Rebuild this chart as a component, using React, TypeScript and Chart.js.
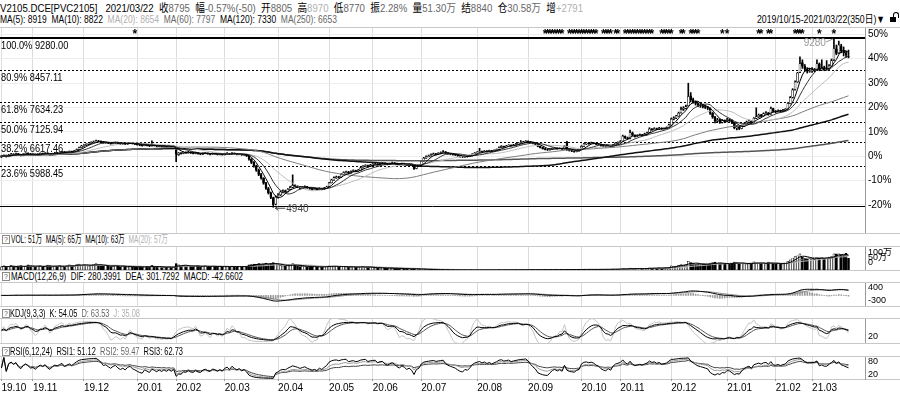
import React, { useEffect, useLayoutEffect, useRef } from "react";
import { Chart, registerables } from "chart.js";

Chart.register(...registerables);

const FONT = '"Liberation Sans", "Noto Sans CJK SC", sans-serif';
Chart.defaults.font.family = FONT;

// ---------- data ----------
const monthStarts = [0, 13, 34, 56, 72, 92, 114, 135, 153, 173, 196, 217, 239, 255, 276, 299, 319, 334];
const monthLabels = ["19.10", "19.11", "19.12", "20.01", "20.02", "20.03", "20.04", "20.05", "20.06", "20.07", "20.08", "20.09", "20.10", "20.11", "20.12", "21.01", "21.02", "21.03"];

const opens = [
  6230, 6255, 6270, 6245, 6280, 6305, 6290, 6315, 6285, 6265, 6300, 6330, 6310,
  6285, 6300, 6275, 6300, 6325, 6305, 6335, 6300, 6290, 6315, 6340, 6330, 6345, 6365, 6340, 6355, 6375, 6360, 6385, 6420, 6470,
  6515, 6530, 6560, 6580, 6600, 6620, 6645, 6630, 6615, 6590, 6600, 6585, 6570, 6590, 6605, 6580, 6565, 6575, 6560, 6580, 6590, 6570,
  6560, 6545, 6530, 6520, 6540, 6525, 6510, 6535, 6520, 6505, 6515, 6500, 6510, 6495, 6505, 6490,
  6400, 6290, 6335, 6320, 6355, 6340, 6360, 6330, 6320, 6340, 6310, 6300, 6320, 6330, 6310, 6300, 6320, 6310, 6295, 6305,
  6290, 6310, 6320, 6300, 6330, 6310, 6295, 6305, 6280, 6290, 6250, 6170, 6090, 6000, 5890, 5780, 5690, 5560, 5420, 5310, 5180, 5020,
  5200, 5260, 5330, 5360, 5340, 5400, 5450, 5510, 5480, 5460, 5430, 5450, 5470, 5440, 5420, 5400, 5410, 5390, 5420, 5400, 5430,
  5470, 5570, 5640, 5700, 5720, 5710, 5780, 5830, 5850, 5820, 5860, 5880, 5870, 5890, 5950, 5990, 6010, 5990,
  6020, 6040, 6050, 6030, 6060, 6070, 6050, 6040, 6060, 6080, 6070, 6050, 6040, 6060, 6050, 6030, 6040, 6030, 5935, 5990,
  6020, 6130, 6200, 6240, 6260, 6290, 6310, 6300, 6320, 6340, 6360, 6330, 6310, 6300, 6290, 6280, 6260, 6240, 6230, 6250, 6240, 6260, 6300,
  6330, 6350, 6370, 6360, 6380, 6370, 6390, 6380, 6400, 6420, 6470, 6500, 6490, 6510, 6530, 6520, 6540, 6560, 6580, 6600, 6610,
  6630, 6620, 6600, 6580, 6560, 6500, 6470, 6440, 6420, 6410, 6430, 6450, 6460, 6440, 6450, 6430, 6600, 6420, 6390, 6380, 6370, 6390,
  6460, 6500, 6560, 6580, 6570, 6590, 6580, 6560, 6550, 6520, 6500, 6490, 6510, 6490, 6540, 6580,
  6600, 6640, 6760, 6720, 6700, 6850, 6790, 6760, 6780, 6800, 6790, 6820, 6860, 6950, 6930, 6960, 6940, 6970, 6950, 6960, 6980,
  7050, 7200, 7230, 7280, 7360, 7450, 7480, 7540, 7800, 7700, 7650, 7600, 7560, 7540, 7520, 7500, 7480, 7350, 7250, 7150, 7180, 7120, 7160,
  7150, 7190, 7170, 7100, 6980, 7000, 6960, 7020, 7080, 7120, 7150, 7100, 7220, 7260, 7300, 7280, 7340, 7360, 7330, 7470,
  7400, 7390, 7420, 7400, 7430, 7460, 7600, 7760, 7960, 8160, 8400, 8650, 8560, 8480, 8430,
  8440, 8450, 8460, 8620, 8460, 8520, 8470, 8470, 8560, 8720, 9000, 8900, 9080, 8950, 8900, 8805,
];
const highs = [
  6270, 6285, 6280, 6295, 6320, 6315, 6330, 6320, 6300, 6315, 6340, 6335, 6320,
  6310, 6305, 6315, 6335, 6330, 6345, 6340, 6315, 6325, 6350, 6345, 6360, 6375, 6370, 6365, 6385, 6380, 6395, 6435, 6485, 6530,
  6545, 6570, 6595, 6620, 6640, 6660, 6655, 6645, 6625, 6615, 6610, 6595, 6600, 6615, 6610, 6590, 6590, 6585, 6595, 6605, 6600, 6580,
  6570, 6555, 6540, 6555, 6550, 6535, 6640, 6545, 6530, 6530, 6520, 6525, 6515, 6520, 6510, 6515,
  6420, 6345, 6345, 6365, 6360, 6375, 6365, 6340, 6355, 6345, 6320, 6335, 6345, 6335, 6320, 6335, 6330, 6315, 6320, 6310,
  6325, 6340, 6325, 6345, 6335, 6320, 6320, 6310, 6305, 6295, 6260, 6190, 6110, 6020, 5920, 5810, 5700, 5580, 5450, 5330, 5200, 5230,
  5290, 5360, 5390, 5380, 5420, 5480, 5770, 5530, 5495, 5470, 5470, 5490, 5475, 5450, 5430, 5430, 5420, 5440, 5430, 5450, 5480,
  5580, 5660, 5720, 5740, 5735, 5800, 5850, 5870, 5860, 5875, 5900, 5890, 5910, 5965, 6010, 6030, 6020, 6040,
  6060, 6070, 6060, 6075, 6090, 6080, 6060, 6075, 6100, 6090, 6075, 6060, 6075, 6070, 6055, 6060, 6050, 6040, 6005, 6030,
  6140, 6220, 6260, 6280, 6310, 6330, 6320, 6340, 6360, 6390, 6370, 6340, 6320, 6310, 6300, 6290, 6270, 6250, 6265, 6260, 6275, 6315, 6345,
  6365, 6450, 6380, 6395, 6390, 6405, 6395, 6415, 6435, 6490, 6520, 6510, 6525, 6545, 6540, 6555, 6580, 6600, 6650, 6630, 6650,
  6645, 6630, 6610, 6590, 6565, 6510, 6480, 6450, 6430, 6445, 6465, 6475, 6465, 6465, 6455, 6520, 6630, 6430, 6400, 6390, 6400, 6415,
  6520, 6580, 6600, 6590, 6610, 6600, 6585, 6570, 6555, 6530, 6510, 6525, 6515, 6555, 6600, 6620,
  6650, 6790, 6770, 6740, 6920, 6870, 6800, 6800, 6820, 6810, 6840, 6870, 6980, 6960, 6980, 6970, 6990, 6980, 6975, 7000, 7070,
  7230, 7260, 7300, 7380, 7510, 7520, 7560, 8120, 7880, 7740, 7670, 7620, 7600, 7580, 7560, 7530, 7490, 7370, 7270, 7220, 7200, 7190, 7180,
  7220, 7210, 7180, 7110, 7040, 7020, 7050, 7100, 7150, 7180, 7160, 7240, 7490, 7330, 7320, 7360, 7390, 7370, 7510, 7480,
  7420, 7440, 7430, 7450, 7470, 7620, 7780, 7980, 8180, 8400, 8800, 8720, 8600, 8520, 8500,
  8520, 8500, 8720, 8640, 8720, 8560, 8700, 8600, 8740, 9280, 9100, 9200, 9120, 9050, 8950, 8970,
];
const lows = [
  6215, 6240, 6225, 6235, 6270, 6275, 6280, 6270, 6255, 6260, 6290, 6295, 6275,
  6270, 6265, 6270, 6290, 6295, 6300, 6295, 6275, 6280, 6305, 6315, 6320, 6335, 6330, 6330, 6345, 6345, 6350, 6380, 6415, 6460,
  6500, 6520, 6545, 6570, 6590, 6610, 6615, 6600, 6580, 6580, 6570, 6555, 6565, 6580, 6570, 6550, 6555, 6550, 6555, 6570, 6560, 6545,
  6530, 6515, 6505, 6515, 6515, 6495, 6505, 6510, 6490, 6495, 6485, 6490, 6480, 6485, 6475, 6480,
  6110, 6270, 6300, 6310, 6325, 6330, 6320, 6305, 6310, 6300, 6285, 6290, 6310, 6300, 6285, 6290, 6295, 6280, 6285, 6275,
  6280, 6300, 6290, 6295, 6300, 6280, 6285, 6270, 6270, 6240, 6150, 6060, 5970, 5860, 5750, 5660, 5530, 5400, 5280, 5160, 4940, 5000,
  5170, 5240, 5310, 5320, 5330, 5390, 5440, 5460, 5440, 5410, 5420, 5440, 5425, 5400, 5380, 5390, 5370, 5385, 5385, 5395, 5420,
  5460, 5560, 5630, 5680, 5690, 5700, 5770, 5815, 5800, 5810, 5850, 5850, 5860, 5885, 5940, 5980, 5970, 5980,
  6010, 6030, 6015, 6025, 6050, 6040, 6025, 6035, 6055, 6055, 6035, 6025, 6035, 6035, 6015, 6020, 6005, 5910, 5925, 5980,
  6010, 6120, 6190, 6230, 6250, 6280, 6280, 6290, 6310, 6330, 6320, 6300, 6285, 6275, 6265, 6245, 6225, 6215, 6220, 6225, 6235, 6255, 6295,
  6320, 6345, 6345, 6355, 6355, 6365, 6365, 6375, 6395, 6415, 6465, 6475, 6485, 6505, 6505, 6515, 6535, 6555, 6575, 6590, 6600,
  6605, 6585, 6565, 6545, 6490, 6460, 6430, 6410, 6395, 6405, 6425, 6440, 6430, 6435, 6420, 6425, 6400, 6380, 6365, 6350, 6360, 6380,
  6450, 6495, 6550, 6555, 6565, 6565, 6545, 6535, 6505, 6485, 6470, 6485, 6475, 6485, 6535, 6570,
  6590, 6630, 6700, 6680, 6690, 6770, 6740, 6750, 6770, 6770, 6785, 6810, 6850, 6910, 6920, 6925, 6930, 6935, 6940, 6950, 6975,
  7030, 7180, 7210, 7270, 7350, 7420, 7460, 7530, 7640, 7610, 7560, 7520, 7500, 7490, 7470, 7440, 7320, 7220, 7100, 7130, 7090, 7100, 7110,
  7130, 7140, 7080, 6950, 6920, 6930, 6950, 7010, 7070, 7100, 7080, 7090, 7210, 7240, 7250, 7270, 7320, 7300, 7320, 7380,
  7360, 7380, 7370, 7390, 7410, 7450, 7590, 7740, 7940, 8140, 8390, 8500, 8420, 8380, 8400,
  8400, 8410, 8450, 8440, 8450, 8440, 8450, 8460, 8550, 8700, 8850, 8880, 8900, 8820, 8780, 8770,
];
const closes = [
  6250, 6265, 6240, 6280, 6300, 6290, 6310, 6285, 6270, 6300, 6325, 6310, 6290,
  6295, 6280, 6300, 6320, 6310, 6330, 6305, 6290, 6315, 6335, 6330, 6345, 6360, 6340, 6355, 6370, 6360, 6385, 6420, 6470, 6510,
  6530, 6555, 6580, 6600, 6620, 6640, 6630, 6615, 6590, 6600, 6585, 6570, 6590, 6600, 6580, 6565, 6575, 6560, 6580, 6590, 6570, 6560,
  6545, 6530, 6520, 6540, 6525, 6510, 6530, 6520, 6505, 6515, 6500, 6510, 6495, 6505, 6490, 6500,
  6300, 6330, 6320, 6350, 6340, 6360, 6330, 6320, 6340, 6310, 6300, 6320, 6330, 6310, 6300, 6320, 6310, 6295, 6305, 6290,
  6310, 6320, 6300, 6330, 6310, 6295, 6305, 6280, 6290, 6260, 6170, 6090, 6000, 5890, 5780, 5690, 5560, 5420, 5310, 5190, 5010, 5200,
  5250, 5330, 5360, 5340, 5400, 5450, 5500, 5480, 5460, 5430, 5450, 5470, 5440, 5420, 5400, 5410, 5390, 5420, 5400, 5430, 5460,
  5560, 5640, 5700, 5720, 5710, 5780, 5830, 5850, 5820, 5860, 5880, 5870, 5890, 5950, 5990, 6010, 5990, 6020,
  6040, 6050, 6030, 6060, 6070, 6050, 6040, 6060, 6080, 6070, 6050, 6040, 6060, 6050, 6030, 6040, 6020, 5930, 5990, 6010,
  6120, 6200, 6240, 6260, 6290, 6310, 6300, 6320, 6340, 6360, 6330, 6310, 6300, 6290, 6280, 6260, 6240, 6230, 6250, 6240, 6260, 6300, 6330,
  6350, 6370, 6360, 6380, 6370, 6390, 6380, 6400, 6420, 6470, 6500, 6490, 6510, 6530, 6520, 6540, 6560, 6580, 6600, 6610, 6630,
  6620, 6600, 6580, 6560, 6500, 6470, 6440, 6420, 6410, 6430, 6450, 6460, 6440, 6450, 6430, 6500, 6420, 6390, 6380, 6370, 6390, 6400,
  6500, 6560, 6580, 6570, 6590, 6580, 6560, 6550, 6520, 6500, 6490, 6510, 6490, 6540, 6580, 6600,
  6620, 6760, 6720, 6700, 6850, 6790, 6760, 6780, 6800, 6790, 6820, 6850, 6950, 6930, 6960, 6940, 6970, 6950, 6960, 6980, 7050,
  7200, 7230, 7280, 7350, 7450, 7480, 7520, 7780, 7700, 7650, 7600, 7560, 7540, 7520, 7500, 7480, 7350, 7250, 7150, 7180, 7120, 7160, 7140,
  7190, 7170, 7100, 6980, 7000, 6960, 7020, 7080, 7120, 7150, 7100, 7220, 7260, 7300, 7280, 7340, 7360, 7330, 7470, 7400,
  7390, 7420, 7400, 7430, 7450, 7600, 7750, 7950, 8150, 8380, 8620, 8560, 8480, 8430, 8440,
  8450, 8470, 8620, 8460, 8520, 8470, 8470, 8560, 8700, 9010, 8885, 9100, 8950, 8905, 8845, 8795,
];
// volume, 万手
const volumes = [
  14, 18, 12, 16, 20, 15, 13, 17, 19, 14, 16, 22, 18,
  15, 12, 17, 19, 14, 16, 21, 18, 13, 15, 17, 20, 16, 14, 18, 22, 19, 17, 24, 26, 21,
  23, 19, 18, 21, 25, 28, 22, 18, 16, 19, 17, 15, 18, 20, 16, 14, 17, 15, 13, 16, 14, 12,
  13, 15, 12, 14, 16, 13, 20, 15, 12, 14, 11, 13, 12, 14, 11, 12,
  28, 22, 18, 20, 17, 19, 16, 15, 18, 17, 15, 16, 18, 14, 15, 17, 16, 14, 15, 13,
  15, 17, 14, 16, 15, 13, 16, 14, 15, 17, 22, 24, 26, 25, 28, 24, 27, 30, 26, 28, 32, 25,
  22, 20, 18, 17, 19, 21, 28, 20, 17, 15, 16, 18, 14, 15, 13, 14, 12, 15, 13, 14, 16,
  18, 17, 16, 15, 13, 16, 15, 14, 12, 13, 14, 12, 13, 15, 14, 12, 11, 13,
  10, 9, 8, 9, 10, 8, 7, 9, 8, 7, 6, 7, 6, 5, 6, 5, 4, 6, 5, 4,
  3, 3, 2, 2.5, 2, 1.8, 1.5, 1.6, 1.2, 1.4, 1, 0.9, 0.8, 0.9, 0.7, 0.6, 0.5, 0.6, 0.5, 0.4, 0.5, 0.6, 0.5,
  0.5, 0.6, 0.5, 0.4, 0.5, 0.6, 0.5, 0.7, 0.6, 0.8, 0.9, 0.7, 0.8, 0.9, 0.8, 1.0, 1.1, 1.0, 1.2, 1.1, 1.2,
  1.2, 1.1, 1.3, 1.2, 1.4, 1.3, 1.5, 1.4, 1.6, 1.5, 1.7, 1.6, 1.8, 1.7, 1.9, 2.0, 2.4, 2.2, 2.0, 2.1, 2.3, 2.2,
  2.5, 2.8, 2.6, 2.4, 2.7, 2.5, 2.3, 2.6, 2.9, 3.1, 2.8, 3.0, 3.2, 3.5, 3.8, 4.0,
  4.2, 6.5, 5.0, 4.8, 8.0, 6.2, 5.5, 5.8, 6.0, 5.6, 6.4, 7.0, 9.5, 8.2, 8.8, 8.0, 9.0, 8.5, 9.2, 10, 12,
  18, 16, 17, 20, 24, 22, 25, 38, 32, 28, 26, 25, 24, 26, 25, 24, 30, 32, 34, 28, 30, 26, 27,
  28, 26, 30, 34, 32, 30, 28, 27, 26, 28, 30, 36, 30, 28, 29, 30, 27, 34, 30, 28,
  27, 28, 26, 29, 30, 38, 44, 52, 58, 62, 70, 56, 52, 48, 50,
  48, 46, 55, 52, 54, 50, 52, 56, 58, 70, 70, 70, 66, 64, 72, 51,
];

const fibLevels = [9280, 8457.11, 7634.23, 7125.94, 6617.46, 5988.45, 4971.88];
const fibRatios = ["100.0%", "80.9%", "61.8%", "50.0%", "38.2%", "23.6%", "0.0%"];
const pctSteps = [-20, -10, 0, 10, 20, 30, 40, 50];
const starDays = [
  55,
  224, 225, 226, 227, 228, 229, 230, 231,
  234, 235, 236, 237, 238, 239, 240, 241, 242, 243, 244, 245,
  248, 249, 250, 251, 253, 254,
  257, 258, 259, 260, 261, 262, 263, 264, 265, 266, 267, 268,
  272, 273, 274, 275, 276,
  280, 281, 284, 285, 286, 287,
  297, 299,
  312, 313, 316, 317,
  327, 328, 329, 330, 337, 343,
];

// ---------- axis ranges ----------
const X_MIN = -0.58;
const X_MAX = 355.8;
const PRICE_MIN = 4280;
const PRICE_MAX = 9536;
const AXIS_W = 35;

// ---------- indicator helpers ----------
function sma(a: number[], n: number) {
  const out: number[] = [];
  let s = 0;
  for (let i = 0; i < a.length; i++) {
    s += a[i];
    if (i >= n) s -= a[i - n];
    out.push(s / Math.min(i + 1, n));
  }
  return out;
}
function ema(a: number[], n: number) {
  const k = 2 / (n + 1);
  let e = a[0];
  return a.map((v, i) => (e = i === 0 ? v : e + k * (v - e)));
}
function pts(a: number[]) {
  return a.map((y, x) => ({ x, y }));
}

const upFlag = closes.map((c, i) => c >= opens[i]);

const dif = (() => { const e12 = ema(closes, 12), e26 = ema(closes, 26); return e12.map((v, i) => v - e26[i]); })();
const dea = ema(dif, 9);
const hist = dif.map((v, i) => 2 * (v - dea[i]));

const kdj = (() => {
  let K = 50, D = 50;
  const k: number[] = [], d: number[] = [], j: number[] = [];
  for (let i = 0; i < closes.length; i++) {
    const s = Math.max(0, i - 8);
    const lo = Math.min(...lows.slice(s, i + 1));
    const hi = Math.max(...highs.slice(s, i + 1));
    const rsv = hi === lo ? 50 : ((closes[i] - lo) / (hi - lo)) * 100;
    K = (2 * K + rsv) / 3;
    D = (2 * D + K) / 3;
    k.push(K); d.push(D); j.push(3 * K - 2 * D);
  }
  return { k, d, j };
})();

function rsi(n: number) {
  let up = 0, dn = 0;
  const out: number[] = [];
  for (let i = 0; i < closes.length; i++) {
    if (i === 0) { out.push(50); continue; }
    const dlt = closes[i] - closes[i - 1];
    up = (Math.max(dlt, 0) + (n - 1) * up) / n;
    dn = (Math.abs(dlt) + (n - 1) * dn) / n;
    out.push(dn === 0 ? 50 : (up / dn) * 100);
  }
  return out;
}

// ---------- scale builders ----------
function xAxis(showLabels: boolean): any {
  return {
    type: "linear",
    min: X_MIN,
    max: X_MAX,
    bounds: "data",
    offset: false,
    afterBuildTicks: (s: any) => { s.ticks = monthStarts.map((v) => ({ value: v })); },
    afterFit: (s: any) => { s.paddingLeft = 0; s.paddingRight = 0; if (showLabels) s.height = 15; },
    grid: { offset: false, color: "#dcdcdc", lineWidth: 1, drawTicks: showLabels, tickLength: 2, tickColor: "#999" },
    border: { display: false },
    ticks: {
      display: showLabels,
      autoSkip: false,
      maxRotation: 0,
      minRotation: 0,
      align: "start",
      padding: 1,
      color: "#000",
      font: { family: FONT, size: 10 },
      callback: (v: any) => { const k = monthStarts.indexOf(Number(v)); return k >= 0 ? monthLabels[k] : ""; },
    },
  };
}
function rightAxis(min: number, max: number, values: number[], labels: string[], gridColor?: string, size = 9): any {
  return {
    type: "linear",
    position: "right",
    min,
    max,
    bounds: "data",
    stacked: false,
    afterBuildTicks: (s: any) => { s.ticks = values.map((v) => ({ value: v })); },
    afterFit: (s: any) => { s.width = AXIS_W; s.paddingTop = 0; s.paddingBottom = 0; },
    grid: { display: !!gridColor, color: gridColor || "#eee", drawTicks: false },
    border: { display: true, color: "#9a9a9a" },
    ticks: { padding: 3, color: "#000", autoSkip: false, font: { family: FONT, size }, callback: (_v: any, i: number) => labels[i] },
  };
}
const hiddenY = (min: number, max: number): any => ({ type: "linear", display: false, min, max, bounds: "data", stacked: false });

const baseOpts = (scales: any): any => ({
  animation: false,
  responsive: false,
  maintainAspectRatio: false,
  devicePixelRatio: 1,
  events: [],
  layout: { padding: 0 },
  plugins: { legend: { display: false }, tooltip: { enabled: false }, title: { display: false } },
  scales,
});

const lineDs = (data: number[], color: string, width = 1, yAxisID = "y"): any => ({
  type: "line",
  data: pts(data),
  borderColor: color,
  borderWidth: width,
  pointRadius: 0,
  tension: 0,
  fill: false,
  yAxisID,
});
const barDs = (data: any[], bg: any, maxW: number, extra: any = {}): any => ({
  type: "bar",
  data,
  grouped: false,
  categoryPercentage: 1,
  barPercentage: 1,
  maxBarThickness: maxW,
  backgroundColor: bg,
  borderWidth: 0,
  borderSkipped: false,
  yAxisID: "y",
  ...extra,
});

// ---------- plugins ----------
const fibPlugin: any = {
  id: "fib",
  beforeDatasetsDraw(chart: any) {
    const { ctx, chartArea: a, scales } = chart;
    ctx.save();
    fibLevels.forEach((lv, i) => {
      const py = Math.round(scales.y.getPixelForValue(lv));
      const solid = i === 0 || i === fibLevels.length - 1;
      ctx.beginPath();
      ctx.setLineDash(solid ? [] : [2, 2]);
      ctx.lineWidth = i === 0 ? 2 : 1;
      ctx.strokeStyle = "#000";
      const yy = i === 0 ? py : py + 0.5;
      ctx.moveTo(a.left, yy);
      ctx.lineTo(a.right, yy);
      ctx.stroke();
    });
    ctx.restore();
  },
  afterDatasetsDraw(chart: any) {
    const { ctx, chartArea: a, scales } = chart;
    const x = scales.x, y = scales.y;
    ctx.save();
    // fib labels (narrowed)
    ctx.font = `11px ${FONT}`;
    ctx.fillStyle = "#000";
    ctx.textBaseline = "top";
    ctx.textAlign = "left";
    fibLevels.slice(0, fibLevels.length - 1).forEach((lv, i) => {
      const py = y.getPixelForValue(lv);
      ctx.save();
      ctx.translate(1, py + 2);
      ctx.scale(0.84, 1);
      ctx.fillText(`${fibRatios[i]} ${lv.toFixed(2)}`, 0, 0);
      ctx.restore();
    });
    // stars
    ctx.font = `bold 12px ${FONT}`;
    ctx.textAlign = "center";
    ctx.textBaseline = "middle";
    ctx.fillStyle = "#000";
    starDays.forEach((d) => ctx.fillText("*", x.getPixelForValue(d), a.top + 7));
    // high / low marks
    let hi = 0, lo = 0;
    highs.forEach((v, i) => { if (v > highs[hi]) hi = i; });
    lows.forEach((v, i) => { if (v < lows[lo]) lo = i; });
    const lx = x.getPixelForValue(lo), ly = y.getPixelForValue(lows[lo]) + 1;
    ctx.strokeStyle = "#444";
    ctx.fillStyle = "#444";
    ctx.lineWidth = 1;
    ctx.beginPath();
    ctx.moveTo(lx + 2, ly); ctx.lineTo(lx + 12, ly);
    ctx.moveTo(lx + 2, ly); ctx.lineTo(lx + 5, ly - 2);
    ctx.moveTo(lx + 2, ly); ctx.lineTo(lx + 5, ly + 2);
    ctx.stroke();
    ctx.font = `10px ${FONT}`;
    ctx.textAlign = "left";
    ctx.fillText(String(lows[lo]), lx + 13, ly + 0.5);
    const hx = x.getPixelForValue(hi), hy = y.getPixelForValue(highs[hi]);
    ctx.strokeStyle = "#999";
    ctx.fillStyle = "#999";
    ctx.beginPath();
    ctx.moveTo(hx - 8, hy + 4); ctx.lineTo(hx - 1, hy + 1);
    ctx.stroke();
    ctx.textAlign = "right";
    ctx.fillText(String(highs[hi]), hx - 8, hy + 5);
    ctx.restore();
  },
};

// ---------- text helper ----------
function FitText({ x, y, w, size = 11, color = "#000", weight = 400, children }: any) {
  const ref = useRef<HTMLDivElement>(null);
  useLayoutEffect(() => {
    const el = ref.current;
    if (!el) return;
    el.style.transform = "none";
    const actual = el.getBoundingClientRect().width;
    if (actual > 0 && w) el.style.transform = `scaleX(${w / actual})`;
  }, [w]);
  return (
    <div
      ref={ref}
      style={{
        position: "absolute", left: x, top: y, fontSize: size, lineHeight: `${size + 2}px`, whiteSpace: "nowrap",
        color, fontWeight: weight, transformOrigin: "0 50%", fontFamily: FONT,
      }}
    >
      {children}
    </div>
  );
}
const Q = ({ y }: { y: number }) => (
  <div style={{ position: "absolute", left: 2, top: y, width: 6, height: 7, border: "1px solid #8a8a8a", fontSize: 7, lineHeight: "7px", textAlign: "center", color: "#555", fontFamily: FONT }}>?</div>
);
const HLine = ({ y, color = "#c8c8c8" }: { y: number; color?: string }) => (
  <div style={{ position: "absolute", left: 0, top: y, width: 900, height: 1, background: color }} />
);
const G = ({ children }: any) => <span style={{ color: "#b0b0b0" }}>{children}</span>;
const M = ({ children }: any) => <span style={{ color: "#666" }}>{children}</span>;

export default function App() {
  const mainRef = useRef<HTMLCanvasElement>(null);
  const volRef = useRef<HTMLCanvasElement>(null);
  const macdRef = useRef<HTMLCanvasElement>(null);
  const kdjRef = useRef<HTMLCanvasElement>(null);
  const rsiRef = useRef<HTMLCanvasElement>(null);

  useEffect(() => {
    const charts: Chart[] = [];
    const base = closes[0];
    const candleBg = upFlag.map((u) => (u ? "#ffffff" : "#000000"));

    charts.push(new Chart(mainRef.current as HTMLCanvasElement, {
      type: "line",
      data: {
        datasets: [
          lineDs(sma(closes, 5), "#000000", 1),
          lineDs(sma(closes, 10), "#333333", 1),
          lineDs(sma(closes, 20), "#bdbdbd", 1),
          lineDs(sma(closes, 60), "#7a7a7a", 1),
          lineDs(sma(closes, 120), "#111111", 1.5),
          lineDs(sma(closes, 250), "#555555", 1.5),
          barDs(closes.map((c, i) => ({ x: i, y: [opens[i], c] })), candleBg, 2, { borderColor: "#000", borderWidth: 0.6 }),
          barDs(closes.map((_c, i) => ({ x: i, y: [lows[i], highs[i]] })), "#000", 1),
        ],
      },
      options: baseOpts({
        x: xAxis(false),
        y: hiddenY(PRICE_MIN, PRICE_MAX),
        yp: rightAxis(PRICE_MIN, PRICE_MAX, pctSteps.map((p) => base * (1 + p / 100)), pctSteps.map((p) => `${p}%`), "#ededed", 10),
      }),
      plugins: [fibPlugin],
    }));

    charts.push(new Chart(volRef.current as HTMLCanvasElement, {
      type: "line",
      data: {
        datasets: [
          lineDs(sma(volumes, 5), "#000", 1),
          lineDs(sma(volumes, 10), "#777", 1),
          lineDs(sma(volumes, 20), "#c0c0c0", 1),
          barDs(pts(volumes), candleBg, 2, { borderColor: "#000", borderWidth: 0.6 }),
        ],
      },
      options: baseOpts({
        x: xAxis(false),
        y: hiddenY(0, 100),
        yl: rightAxis(-70, 160, [0, 50, 100], ["0", "50万", "100万"], undefined, 9),
      }),
    }));

    charts.push(new Chart(macdRef.current as HTMLCanvasElement, {
      type: "line",
      data: {
        datasets: [
          lineDs(dif, "#000", 1),
          lineDs(dea, "#8a8a8a", 1),
          barDs(pts(hist), "#9a9a9a", 1),
        ],
      },
      options: baseOpts({
        x: xAxis(false),
        y: rightAxis(-569, 669, [-300, 400], ["-300", "400"], undefined, 9),
      }),
    }));

    charts.push(new Chart(kdjRef.current as HTMLCanvasElement, {
      type: "line",
      data: {
        datasets: [
          lineDs(kdj.k, "#000", 1),
          lineDs(kdj.d, "#555", 1),
          lineDs(kdj.j, "#c4c4c4", 1),
        ],
      },
      options: baseOpts({
        x: xAxis(false),
        y: rightAxis(-10, 110, [20], ["20"], undefined, 9),
      }),
    }));

    charts.push(new Chart(rsiRef.current as HTMLCanvasElement, {
      type: "line",
      data: {
        datasets: [
          lineDs(rsi(6), "#000", 1),
          lineDs(rsi(12), "#999", 1),
          lineDs(rsi(24), "#444", 1),
        ],
      },
      options: baseOpts({
        x: xAxis(true),
        y: rightAxis(-2.4, 102.4, [20, 80], ["20", "80"], undefined, 9),
      }),
    }));

    return () => charts.forEach((c) => c.destroy());
  }, []);

  const cv = (top: number): React.CSSProperties => ({ position: "absolute", left: 0, top, display: "block" });

  return (
    <div style={{ position: "absolute", left: 0, top: 0, width: 900, height: 394, background: "#fff", overflow: "hidden", fontFamily: FONT }}>
      <HLine y={27} />
      <HLine y={233} />
      <HLine y={246} />
      <HLine y={270} />
      <HLine y={282} />
      <HLine y={306} />
      <HLine y={318} />
      <HLine y={343} />
      <HLine y={356} />
      <HLine y={379} />

      <canvas ref={mainRef} width={900} height={205} style={cv(28)} />
      <canvas ref={volRef} width={900} height={23} style={cv(247)} />
      <canvas ref={macdRef} width={900} height={23} style={cv(283)} />
      <canvas ref={kdjRef} width={900} height={24} style={cv(319)} />
      <canvas ref={rsiRef} width={900} height={37} style={cv(357)} />

      <FitText x={0} y={2} w={583} size={11}>
        V2105.DCE[PVC2105]&nbsp;&nbsp;&nbsp;2021/03/22&nbsp;&nbsp;收<M>8795</M>&nbsp;&nbsp;幅<M>-0.57%(-50)</M>&nbsp;&nbsp;开<M>8805</M>&nbsp;&nbsp;高<G>8970</G>&nbsp;&nbsp;低<M>8770</M>&nbsp;&nbsp;振<M>2.28%</M>&nbsp;&nbsp;量<M>51.30万</M>&nbsp;&nbsp;结<M>8840</M>&nbsp;&nbsp;仓<M>30.58万</M>&nbsp;&nbsp;增<G>+2791</G>
      </FitText>
      <FitText x={0} y={13} w={337} size={11}>
        MA(5): 8919&nbsp;&nbsp;MA(10): 8822&nbsp;&nbsp;<G>MA(20): 8654</G>&nbsp;&nbsp;<M>MA(60): 7797</M>&nbsp;&nbsp;MA(120): 7330&nbsp;&nbsp;<M>MA(250): 6653</M>
      </FitText>
      <FitText x={757} y={13} w={128} size={11}>2019/10/15-2021/03/22(350日)▼</FitText>
      <div style={{ position: "absolute", left: 890, top: 17, width: 6, height: 5, background: "#000" }} />
      <div style={{ position: "absolute", left: 893, top: 12, width: 4, height: 5, border: "1px solid #000", borderBottom: "none", borderRadius: "3px 3px 0 0" }} />

      <Q y={235} />
      <FitText x={11} y={233} w={157} size={11}>
        VOL: 51万&nbsp;&nbsp;MA(5): 65万&nbsp;&nbsp;MA(10): 63万&nbsp;&nbsp;<G>MA(20): 57万</G>
      </FitText>
      <Q y={272} />
      <FitText x={11} y={270} w={232} size={11}>
        MACD(12,26,9)&nbsp;&nbsp;DIF: 280.3991&nbsp;&nbsp;DEA: 301.7292&nbsp;&nbsp;MACD: -42.6602
      </FitText>
      <Q y={309} />
      <FitText x={10} y={307} w={130} size={11}>
        KDJ(9,3,3)&nbsp;&nbsp;K: 54.05&nbsp;&nbsp;<M>D: 63.53</M>&nbsp;&nbsp;<G>J: 35.08</G>
      </FitText>
      <Q y={347} />
      <FitText x={10} y={345} w={173} size={11}>
        RSI(6,12,24)&nbsp;&nbsp;RSI1: 51.12&nbsp;&nbsp;<M>RSI2: 59.47</M>&nbsp;&nbsp;RSI3: 62.73
      </FitText>
    </div>
  );
}
